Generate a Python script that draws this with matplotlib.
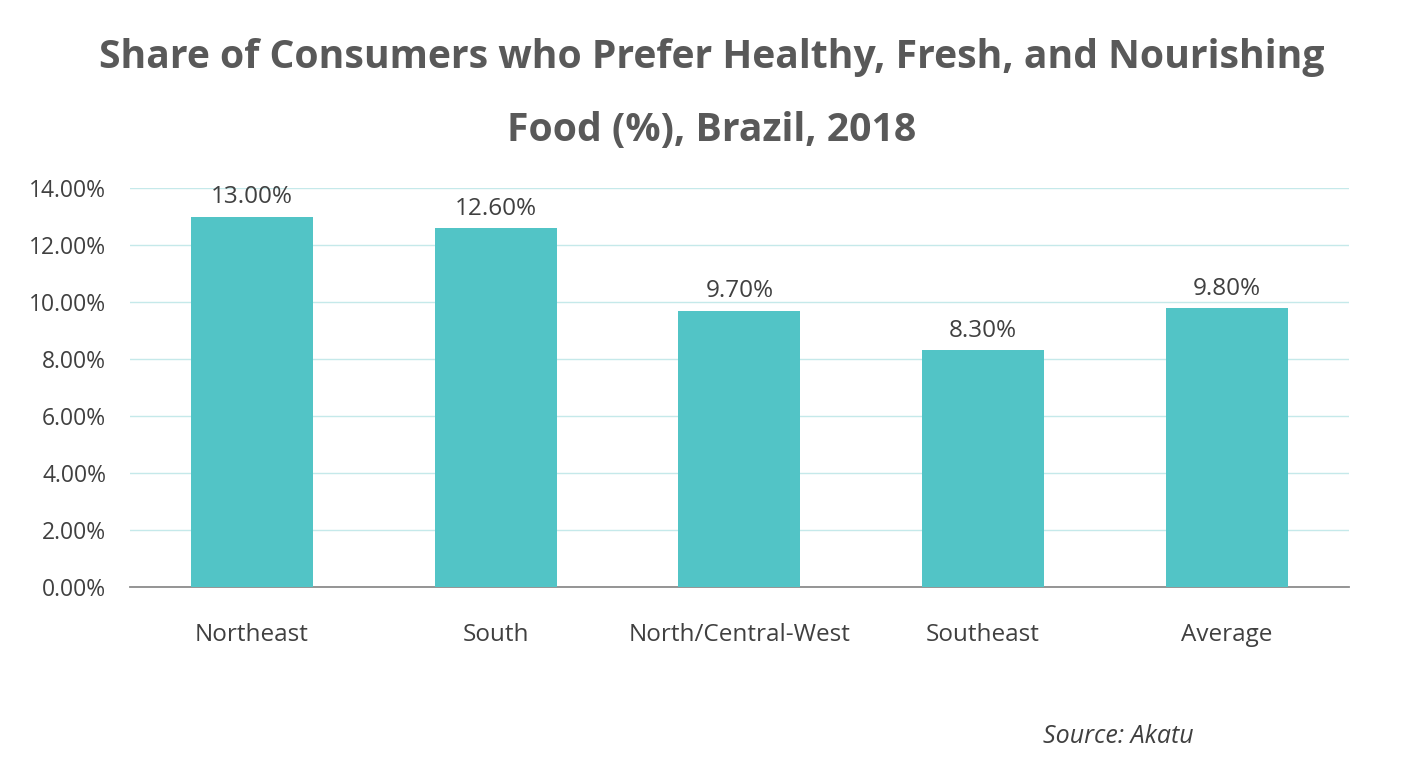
import matplotlib
matplotlib.use('Agg')
import matplotlib.pyplot as plt
from matplotlib.ticker import FuncFormatter

regions = ['Northeast', 'South', 'North/Central-West', 'Southeast', 'Average']
shares = [13.0, 12.6, 9.7, 8.3, 9.8]

plt.rcParams['font.family'] = ['Open Sans', 'DejaVu Sans']

fig = plt.figure(figsize=(14.05, 7.59), dpi=100)
ax = fig.add_axes([0.0925, 0.2266, 0.8675, 0.5257])

x = range(len(regions))
bars = ax.bar(x, shares, width=0.5, color='#52C4C6', zorder=3)
ax.set_xlim(-0.5, len(regions) - 0.5)
ax.set_ylim(0, 14)
ax.set_yticks([0, 2, 4, 6, 8, 10, 12, 14])
ax.yaxis.set_major_formatter(FuncFormatter(lambda v, p: f'{v:.2f}%'))
ax.set_xticks(list(x))
ax.set_xticklabels(regions, fontsize=17.5)
ax.grid(axis='y', color='#C5E9EA', linewidth=1, zorder=0)
for s in ['top', 'right', 'left']:
    ax.spines[s].set_visible(False)
ax.spines['bottom'].set_color('#8C8C8C')
ax.spines['bottom'].set_linewidth(1.3)
ax.tick_params(axis='both', length=0, colors='#404040')
ax.tick_params(axis='y', labelsize=16.5, pad=17)
ax.tick_params(axis='x', pad=26)

for b, v in zip(bars, shares):
    ax.text(b.get_x() + b.get_width() / 2, v + 0.25, f'{v:.2f}%', ha='center', va='bottom',
            fontsize=17.5, color='#404040')

# title, two lines with wide spacing
fig.text(0.5065, 0.924, 'Share of Consumers who Prefer Healthy, Fresh, and Nourishing',
         ha='center', va='center', fontsize=28.2, fontweight='bold', color='#595959')
fig.text(0.5065, 0.828, 'Food (%), Brazil, 2018',
         ha='center', va='center', fontsize=28.2, fontweight='bold', color='#595959')
fig.text(0.742, 0.029, 'Source: Akatu', ha='left', va='center', fontsize=18,
         style='italic', color='#404040')

fig.savefig('out.png', dpi=100)
